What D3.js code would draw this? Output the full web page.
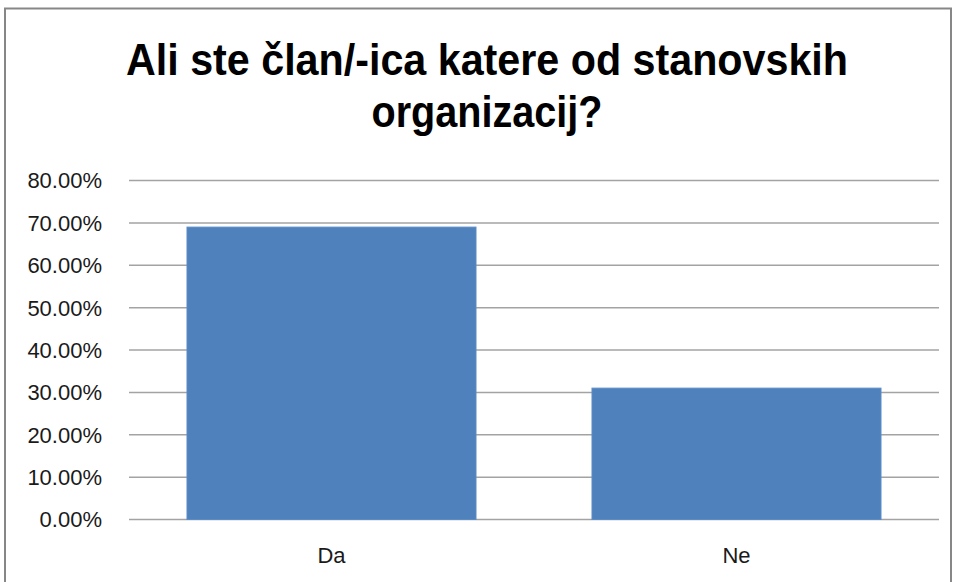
<!DOCTYPE html>
<html>
<head>
<meta charset="utf-8">
<script src="https://cdn.jsdelivr.net/npm/d3@7"></script>
<style>
  body { margin: 0; background: #fff; }
  svg { display: block; }
</style>
</head>
<body>
<div class="chart"></div>
<script>
var titleLines = ["Ali ste član/-ica katere od stanovskih", "organizacij?"];
var categories = ["Da", "Ne"];
var values = [0.69, 0.31];
var yTicks = [0, 0.1, 0.2, 0.3, 0.4, 0.5, 0.6, 0.7, 0.8];

var W = 955, H = 582;
var margin = {top: 180.5, right: 16, bottom: 62.5, left: 129};
var width = W - margin.left - margin.right,
    height = H - margin.top - margin.bottom;

var svg = d3.select(".chart")
  .append("svg")
    .attr("width", W)
    .attr("height", H);

// outer chart border
svg.append("rect")
    .attr("x", 5)
    .attr("y", 8.5)
    .attr("width", 946)
    .attr("height", 620)
    .attr("fill", "none")
    .attr("stroke", "#878787")
    .attr("stroke-width", 2);

// title
var titleW = [722, 231];
svg.append("g")
  .selectAll("text")
  .data(titleLines)
  .enter().append("text")
    .attr("x", 487)
    .attr("y", function(d, i) { return 75 + i * 52; })
    .attr("text-anchor", "middle")
    .attr("textLength", function(d, i) { return titleW[i]; })
    .attr("lengthAdjust", "spacingAndGlyphs")
    .attr("font-family", "'Liberation Sans', Arial, sans-serif")
    .attr("font-weight", "bold")
    .attr("font-size", "44px")
    .attr("fill", "#000")
    .text(function(d) { return d; });

var x = d3.scaleBand()
    .domain(categories)
    .range([0, width])
    .paddingInner(0.2864)
    .paddingOuter(0.1432);

var y = d3.scaleLinear()
    .domain([0, 0.8])
    .range([height, 0]);

var g = svg.append("g")
    .attr("transform", "translate(" + margin.left + "," + margin.top + ")");

// gridlines
g.append("g")
  .selectAll("line")
  .data(yTicks)
  .enter().append("line")
    .attr("x1", 0)
    .attr("x2", width)
    .attr("y1", function(d) { return y(d); })
    .attr("y2", function(d) { return y(d); })
    .attr("stroke", "#a3a3a3")
    .attr("stroke-width", 1.5);

// bars
g.append("g")
  .selectAll("rect")
  .data(values)
  .enter().append("rect")
    .attr("x", function(d, i) { return x(categories[i]); })
    .attr("y", function(d) { return y(d); })
    .attr("width", x.bandwidth())
    .attr("height", function(d) { return height - y(d); })
    .attr("fill", "#4f81bd")
    .attr("stroke", "#5b8cc6")
    .attr("stroke-width", 1);

// y tick labels
g.append("g")
  .selectAll("text")
  .data(yTicks)
  .enter().append("text")
    .attr("x", -27)
    .attr("y", function(d) { return y(d); })
    .attr("dy", "0.36em")
    .attr("text-anchor", "end")
    .attr("font-family", "'Liberation Sans', Arial, sans-serif")
    .attr("font-size", "22px")
    .attr("fill", "#1a1a1a")
    .text(function(d) { return d3.format(".2%")(d); });

// x labels
g.append("g")
  .selectAll("text")
  .data(categories)
  .enter().append("text")
    .attr("x", function(d) { return x(d) + x.bandwidth() / 2; })
    .attr("y", height + 43)
    .attr("text-anchor", "middle")
    .attr("font-family", "'Liberation Sans', Arial, sans-serif")
    .attr("font-size", "22px")
    .attr("fill", "#1a1a1a")
    .text(function(d) { return d; });
</script>
</body>
</html>
